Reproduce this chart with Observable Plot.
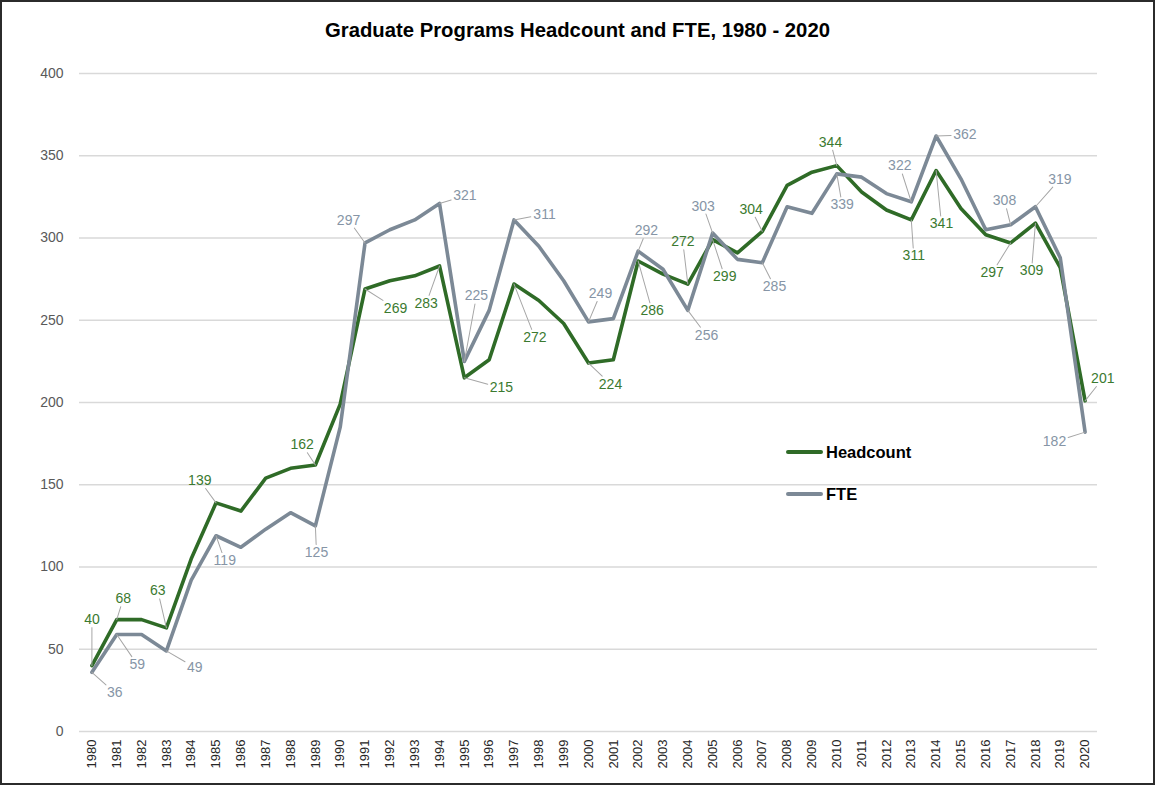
<!DOCTYPE html>
<html>
<head>
<meta charset="utf-8">
<script src="https://cdn.jsdelivr.net/npm/d3@7"></script>
<script src="https://cdn.jsdelivr.net/npm/@observablehq/plot@0.6"></script>
<style>
  body { margin: 0; background: #fff; }
  #frame { position: absolute; left: 0; top: 0; width: 1155px; height: 785px; border: 2px solid #2b2b2b; box-sizing: border-box; pointer-events: none; }
  #title { position: absolute; left: 0; top: 19px; width: 1155px; text-align: center; font: bold 20.3px "Liberation Sans", Arial, sans-serif; color: #000; }
  #chart { position: absolute; left: 0; top: 50px; }
  #chart [aria-label^="y-axis"] text { fill: #595959; font-size: 14px !important; }
  #chart [aria-label^="x-axis"] text { fill: #262626; font-size: 13px !important; }
  .leg { position: absolute; left: 786px; height: 20px; display: flex; align-items: center; font: bold 16.5px "Liberation Sans", Arial, sans-serif; color: #000; }
  .leg .sw { width: 37px; height: 4px; margin-right: 3px; border-radius: 2px; }
</style>
</head>
<body>
<div id="title">Graduate Programs Headcount and FTE, 1980 - 2020</div>
<div id="chart"></div>
<div class="leg" style="top:442px"><span class="sw" style="background:#2f6b27"></span>Headcount</div>
<div class="leg" style="top:484px"><span class="sw" style="background:#7c8996"></span>FTE</div>
<div id="frame"></div>
<script>
const years = [1980,1981,1982,1983,1984,1985,1986,1987,1988,1989,1990,1991,1992,1993,1994,1995,1996,1997,1998,1999,2000,2001,2002,2003,2004,2005,2006,2007,2008,2009,2010,2011,2012,2013,2014,2015,2016,2017,2018,2019,2020];
const headcount = [40,68,68,63,105,139,134,154,160,162,199,269,274,277,283,215,226,272,262,248,224,226,286,278,272,299,291,304,332,340,344,328,317,311,341,318,302,297,309,282,201];
const fte = [36,59,59,49,92,119,112,123,133,125,185,297,305,311,321,225,256,311,295,274,249,251,292,281,256,303,287,285,319,315,339,337,327,322,362,336,305,308,319,288,182];
const seriesNames = ["Headcount", "FTE"];
const yTicks = [0,50,100,150,200,250,300,350,400];

// labelled years with label offsets (pixels from the point to the label centre)
const headLabels = [
  [1980, 0, -46], [1981, 6.5, -21], [1983, -8.6, -37], [1985, -16.3, -22.4], [1989, -13.2, -20.3],
  [1991, 30.5, 19.4], [1994, -13.3, 37.4], [1995, 37.1, 10.1], [1997, 20.8, 53.3], [2000, 22, 21.2],
  [2002, 14, 49.8], [2004, -5, -42.3], [2005, 12.1, 37.1], [2007, -11.1, -22.1], [2010, -6.3, -23.4],
  [2013, 2.5, 36.1], [2014, 5.4, 53.4], [2017, -18.4, 29.8], [2018, -3.9, 47.8], [2020, 17.7, -22.3]
];
const fteLabels = [
  [1980, 22.9, 20.7], [1981, 20.5, 30.2], [1983, 28.4, 16.5], [1985, 8.7, 24.8], [1989, 1.1, 26.6],
  [1991, -16.5, -22.9], [1994, 25.3, -7.5], [1995, 12.1, -65.4], [1997, 30.5, -5.6], [2000, 12, -28.4],
  [2002, 8.3, -20.4], [2004, 18.7, 24.8], [2005, -9.5, -27], [2007, 12.2, 24.1], [2010, 5.4, 31.1],
  [2013, -11.5, -35.8], [2014, 28.7, -1.1], [2017, -6.1, -24.1], [2018, 24.4, -27.7], [2020, -30.6, 9.9]
];

const colors = { Headcount: "#2f6b27", FTE: "#7c8996" };
const labelColors = { Headcount: "#3b7a30", FTE: "#8695a6" };

const rows = [];
years.forEach((yr, i) => rows.push({ year: yr, value: headcount[i], series: "Headcount" }));
years.forEach((yr, i) => rows.push({ year: yr, value: fte[i], series: "FTE" }));

const leaderShape = { draw(context, l) { context.moveTo(0, 0); context.lineTo(0, -l); } };

function labelMarks(labels, values, series) {
  const marks = [];
  for (const [yr, dx, dy] of labels) {
    const v = values[years.indexOf(yr)];
    const d = { year: yr, value: v, text: String(v) };
    const hw = String(v).length * 3.9 + 2;
    const hh = 8;
    const dist = Math.hypot(dx, dy);
    const t = Math.min(dx !== 0 ? hw / Math.abs(dx) : Infinity, dy !== 0 ? hh / Math.abs(dy) : Infinity);
    const len = dist * (1 - t);
    if (len > 2) {
      marks.push(Plot.vector([d], {
        x: "year", y: "value", length: len, rotate: Math.atan2(dx, -dy) * 180 / Math.PI,
        anchor: "start", shape: leaderShape, stroke: "#a6a6a6", strokeWidth: 1
      }));
    }
    marks.push(Plot.text([d], {
      x: "year", y: "value", text: "text", dx, dy,
      fill: labelColors[series], fontSize: 14, fontFamily: "Liberation Sans, Arial, sans-serif"
    }));
  }
  return marks;
}

const chart = Plot.plot({
  width: 1155,
  height: 736,
  marginTop: 23,
  marginBottom: 55,
  marginLeft: 79,
  marginRight: 58,
  style: { fontFamily: "Liberation Sans, Arial, sans-serif", fontSize: "13px", background: "transparent", overflow: "visible" },
  x: { type: "point", domain: years, padding: 0.5, tickRotate: -90, tickSize: 0, tickPadding: 8, tickFormat: d => String(d), label: null },
  y: { domain: [0, 400], ticks: yTicks, tickSize: 0, tickPadding: 16, label: null },
  color: { domain: seriesNames, range: seriesNames.map(s => colors[s]) },
  marks: [
    Plot.ruleY(yTicks, { stroke: "#d9d9d9", strokeWidth: 1.3 }),
    Plot.line(rows.filter(d => d.series === "Headcount"), { x: "year", y: "value", stroke: "series", strokeWidth: 3.6, strokeLinejoin: "round" }),
    Plot.line(rows.filter(d => d.series === "FTE"), { x: "year", y: "value", stroke: "series", strokeWidth: 3.6, strokeLinejoin: "round" }),
    ...labelMarks(headLabels, headcount, "Headcount"),
    ...labelMarks(fteLabels, fte, "FTE")
  ]
});
document.getElementById("chart").appendChild(chart);
</script>
</body>
</html>
